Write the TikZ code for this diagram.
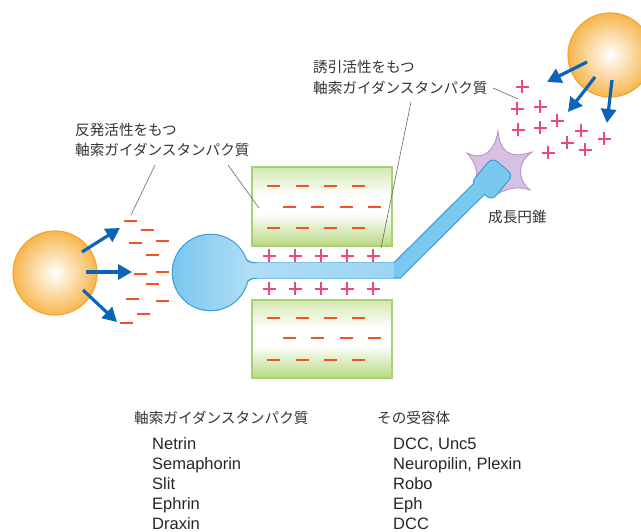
\documentclass[tikz,border=0pt]{standalone}
\usepackage{fontspec}
\setmainfont{Liberation Sans}
\newfontfamily\jp{Noto Sans CJK JP}
\usetikzlibrary{arrows.meta}

\definecolor{orgedge}{HTML}{F2A634}
\definecolor{orgfill}{HTML}{F7B64E}
\definecolor{guide}{HTML}{0B64B8}
\definecolor{minusc}{HTML}{EE5522}
\definecolor{plusc}{HTML}{E84A7E}
\definecolor{cellblue}{HTML}{7AC7EF}
\definecolor{celledge}{HTML}{3E9FD8}
\definecolor{axonlight}{HTML}{D2EDFB}
\definecolor{boxedge}{HTML}{A9D171}
\definecolor{boxtop}{HTML}{D3E8B0}
\definecolor{boxbot}{HTML}{B8D983}
\definecolor{conepurple}{HTML}{B48ECA}
\definecolor{txt}{HTML}{333333}

\pgfdeclareverticalshading{boxshade}{100bp}{color(0bp)=(boxbot); color(25bp)=(boxbot); color(46bp)=(white); color(57bp)=(white); color(75bp)=(boxtop); color(100bp)=(boxtop)}

\tikzset{
  mns/.style={draw=minusc, line width=2.6pt},
  pls/.style={draw=plusc, line width=2.6pt},
  guidearrow/.style={draw=guide, line width=3.2pt, -{Triangle[length=14pt,width=15pt]}},
  leader/.style={draw=black!60, line width=0.6pt},
  jplbl/.style={font=\jp\fontsize{14.6}{18}\selectfont, text=txt, inner sep=0pt, anchor=base west},
  entry/.style={font=\fontsize{16.5}{20}\selectfont, text=black!85, inner sep=0pt, anchor=base west},
  cue/.style={draw=orgedge, line width=1.2pt, inner color=white, outer color=orgfill},
  tissue/.style={draw=boxedge, line width=1.2pt, shading=boxshade},
}

\begin{document}
\begin{tikzpicture}[x=1pt,y=-1pt]
\useasboundingbox (0,0) rectangle (641,532);

% tissue blocks with repellent cues
\path[tissue] (252,167) rectangle (392,246);
\path[tissue] (252,300) rectangle (392,378);
\foreach \y in {186,228,318,360}
  \foreach \x in {273,302,330,358}
    \draw[mns] (\x-6.5,\y) -- (\x+6.5,\y);
\foreach \y in {207,338}
  \foreach \x in {289,317,346,374}
    \draw[mns] (\x-6.5,\y) -- (\x+6.5,\y);

% growth cone filopodia
\draw[fill=conepurple!55!white, draw=conepurple, line width=0.8pt]
  (498,131) .. controls (500,150) and (508,160) .. (532,152)
  .. controls (518,162) and (516,178) .. (530,190)
  .. controls (515,185) and (505,190) .. (495,195)
  -- (475,192)
  .. controls (478,175) and (478,165) .. (467,153)
  .. controls (480,160) and (494,155) .. (498,131) -- cycle;

% neuron outline layer
\fill[celledge] (210.5,272.5) circle (38.8);
\fill[celledge] (243,255) .. controls (248,262) and (252,262.3) .. (258,262.3)
  -- (258,278.7) .. controls (252,278.7) and (248,279) .. (243,290) -- cycle;
\draw[celledge, line width=16.4pt, line join=miter] (230,270.5) -- (397,270.5) -- (487,181);
\node[fill=celledge, rounded corners=7pt, rotate=50, minimum width=34.4pt, minimum height=28.4pt, inner sep=0pt] (coneedge) at (492,179) {};

% neuron fill layer
\shade[left color=cellblue, right color=cellblue!60!white] (210.5,272.5) circle (37.6);
\fill[cellblue!60!white] (242,257.5) .. controls (247,263) and (252,263.5) .. (258,263.5)
  -- (258,277.5) .. controls (252,277.5) and (247,278) .. (242,287.5) -- cycle;
\draw[cellblue, line width=14pt, line join=miter] (256,270.5) -- (397,270.5) -- (487,181);
\shade[left color=cellblue!60!white, middle color=axonlight, right color=cellblue!75!white] (255,263.5) rectangle (394,277.5);
\node[fill=cellblue, rounded corners=6pt, rotate=50, minimum width=32pt, minimum height=26pt, inner sep=0pt] (cone) at (492,179) {};

% attractive cues along the axon
\foreach \y in {256,289}
  \foreach \x in {269,295,321,347,373}
    \draw[pls] (\x-6.5,\y) -- (\x+6.5,\y) (\x,\y-6.5) -- (\x,\y+6.5);

% repellent source
\path[cue] (55,273) circle (42);
\foreach \x/\y in {130/221,147/230,135/243,162/241,152/255,140/274,162/272,152/284,132/299,162/301,143/314,126/323}
  \draw[mns] (\x-6.5,\y) -- (\x+6.5,\y);
\draw[guidearrow] (82,252) -- (120,228);
\draw[guidearrow] (86,272) -- (132,272);
\draw[guidearrow] (83,290) -- (117,322);

% attractive source
\path[cue] (610,55) circle (42);
\foreach \x/\y in {522/87,517/109,540/107,518/130,540/128,557/121,581/131,567/143,604/139,548/153,585/150}
  \draw[pls] (\x-6.5,\y) -- (\x+6.5,\y) (\x,\y-6.5) -- (\x,\y+6.5);
\draw[guidearrow] (587,62) -- (547,82);
\draw[guidearrow] (595,77) -- (568,112);
\draw[guidearrow] (612,80) -- (607,123);

% labels and leaders
\node[jplbl] (rep1) at (75,136) {反発活性をもつ};
\node[jplbl] (rep2) at (75,156) {軸索ガイダンスタンパク質};
\draw[leader] (155,165) -- (131,215);
\draw[leader] (228,165) -- (259,208);

\node[jplbl] (att1) at (313,73) {誘引活性をもつ};
\node[jplbl] (att2) at (313,94) {軸索ガイダンスタンパク質};
\draw[leader] (411,102) -- (381,248);
\draw[leader] (493,88) -- (518,99);

\node[jplbl] (gc) at (488,223) {成長円錐};

% table of cues and receptors
\node[jplbl] (h1) at (134,424) {軸索ガイダンスタンパク質};
\node[jplbl] (h2) at (377,424) {その受容体};
\node[entry] at (152,449) {Netrin};
\node[entry] at (152,469) {Semaphorin};
\node[entry] at (152,489) {Slit};
\node[entry] at (152,509) {Ephrin};
\node[entry] at (152,529) {Draxin};
\node[entry] at (393,449) {DCC, Unc5};
\node[entry] at (393,469) {Neuropilin, Plexin};
\node[entry] at (393,489) {Robo};
\node[entry] at (393,509) {Eph};
\node[entry] at (393,529) {DCC};
\end{tikzpicture}
\end{document}
